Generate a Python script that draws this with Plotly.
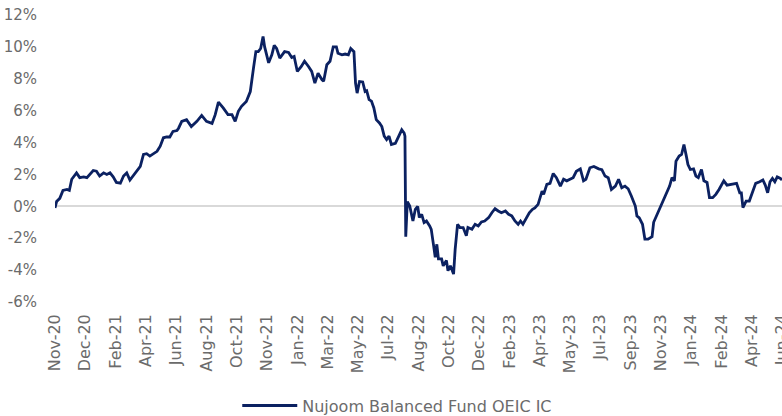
import plotly.graph_objects as go

# trading-day index and cumulative return (%)
days = [0, 2, 6, 10, 15, 18, 21, 27, 31, 36, 40, 44, 48, 52, 56, 61, 65, 69, 73, 77,
        82, 86, 90, 94, 98, 102, 107, 111, 115, 119, 123, 128, 132, 136, 140, 144, 148, 153, 155,
        159, 165, 171, 178, 184, 190, 197, 201, 205, 211, 217, 222, 226, 230, 234, 240,
        245, 249, 252, 255, 258, 261, 263, 268, 272, 275, 278, 282, 288, 293, 297, 300,
        304, 309, 313, 318, 322, 326, 330, 335, 337, 341, 345, 349, 353, 355, 360, 364,
        368, 371, 375, 377, 379, 382, 386, 389, 391, 394, 397, 400, 403, 407, 410, 413,
        416, 419, 422, 427, 431, 435, 438, 439, 440, 442, 445, 449, 452, 455, 457, 460,
        463, 466, 470, 472, 475, 477, 479, 481, 485, 487, 491, 493, 496, 500, 502, 505,
        508, 512, 516, 518, 523, 527, 531, 535, 539, 544, 548, 552, 556, 560, 565, 569,
        573, 577, 581, 584, 587, 591, 595, 599, 602, 606, 611, 613, 617, 621, 625, 629,
        634, 638, 642, 646, 650, 654, 659, 663, 666, 671, 676, 682, 686, 690, 694, 698,
        703, 707, 711, 715, 719, 723, 728, 730, 733, 737, 740, 744, 749, 751, 755, 759,
        763, 767, 771, 774, 777, 779, 783, 786, 789, 792, 794, 797, 801, 804, 807, 811,
        814, 818, 821, 825, 829, 833, 836, 839, 843, 847, 851, 855, 859, 861, 863, 867,
        871, 875, 879, 884, 888, 891, 894, 897, 900, 903, 906, 910, 912]
returns = [-0.1, 0.3, 0.5, 1.0, 1.06, 1.0, 1.7, 2.1, 1.8, 1.85, 1.8, 2.0, 2.25, 2.2, 1.9, 2.1, 2.0, 2.1, 1.85, 1.5,
           1.45, 1.9, 2.1, 1.65, 1.9, 2.2, 2.5, 3.25, 3.3, 3.15, 3.3, 3.45, 3.77, 4.3, 4.35, 4.35, 4.7, 4.75, 4.9,
           5.33, 5.44, 5.0, 5.33, 5.7, 5.33, 5.2, 5.75, 6.54, 6.17, 5.75, 5.75, 5.33, 5.96, 6.27, 6.58,
           7.2, 8.67, 9.7, 9.7, 9.9, 10.65, 10.0, 9.0, 9.5, 10.1, 9.9, 9.3, 9.7, 9.65, 9.33, 9.4,
           8.46, 8.77, 9.1, 8.77, 8.46, 7.73, 8.35, 7.94, 7.85, 8.88, 9.1, 10.0, 10.0, 9.6, 9.5, 9.55,
           9.5, 9.9, 9.7, 7.73, 7.1, 7.83, 7.8, 7.2, 7.25, 6.69, 6.6, 6.17, 5.44, 5.23, 5.0, 4.4,
           4.19, 4.4, 3.88, 3.95, 4.4, 4.8, 4.6, 4.4, -1.9, 0.3, 0.02, -0.92, -0.19, 0.0, -0.7, -0.5,
           -1.02, -0.92, -1.23, -1.44, -2.48, -3.2, -2.38, -3.3, -3.3, -3.73, -3.4, -4.04, -3.73, -4.25, -2.69, -1.125,
           -1.33, -1.33, -1.85, -1.33, -1.44, -1.125, -1.23, -0.98, -0.92, -0.71, -0.4, -0.15, -0.29, -0.4, -0.29, -0.5,
           -0.6, -0.92, -1.125, -0.92, -1.125, -0.71, -0.4, -0.19, -0.1, 0.125, 0.96, 0.75, 1.375, 1.44, 2.06, 1.8,
           1.27, 1.7, 1.6, 1.7, 1.8, 2.2, 2.35, 1.6, 1.7, 2.42, 2.5, 2.35, 2.3, 1.9, 1.8, 1.06,
           1.27, 1.7, 1.17, 1.27, 1.1, 0.65, 0.02, -0.6, -0.73, -1.125, -2.06, -2.06, -1.9, -1.0, -0.55, -0.1,
           0.33, 0.75, 1.27, 1.8, 1.6, 2.83, 3.15, 3.25, 3.88, 3.15, 2.625, 2.31, 2.35, 1.9, 1.8, 2.31,
           1.6, 1.5, 0.54, 0.54, 0.75, 1.06, 1.375, 1.6, 1.33, 1.375, 1.44, 1.44, 0.85, 0.85, -0.08, 0.33,
           0.33, 0.85, 1.44, 1.54, 1.65, 1.33, 0.85, 1.54, 1.75, 1.54, 1.85, 1.75, 1.65]

tick_labels = ["Nov-20", "Dec-20", "Feb-21", "Apr-21", "Jun-21", "Aug-21", "Oct-21", "Nov-21",
               "Jan-22", "Mar-22", "May-22", "Jul-22", "Aug-22", "Oct-22", "Dec-22", "Feb-23",
               "Apr-23", "May-23", "Jul-23", "Sep-23", "Nov-23", "Jan-24", "Feb-24", "Apr-24", "Jun-24"]
label_step = 38
tick_days = [i * label_step for i in range(len(tick_labels))]

y_ticks = [-6, -4, -2, 0, 2, 4, 6, 8, 10, 12]

series_name = "Nujoom Balanced Fund OEIC IC"

fig = go.Figure()
fig.add_trace(go.Scatter(
    x=days, y=returns, mode="lines", name=series_name,
    line=dict(color="#0b2161", width=2.8),
))

font_family = "'DejaVu Sans', sans-serif"
grey = "#6b6b6b"

fig.update_layout(
    width=782, height=416,
    margin=dict(l=55, r=0, t=15, b=114),
    paper_bgcolor="white", plot_bgcolor="white",
    font=dict(family=font_family, size=15, color=grey),
    showlegend=True,
    legend=dict(orientation="h", x=0.508, xanchor="center", xref="container",
                y=0.025, yanchor="middle", yref="container", itemwidth=55,
                font=dict(size=16, color=grey)),
    xaxis=dict(range=[0, tick_days[-1]], tickmode="array", tickvals=tick_days,
               ticktext=tick_labels, tickangle=-90, showgrid=False, zeroline=False,
               showline=False, ticks="", automargin=False, ticklabelstandoff=8,
               ticklabeloverflow="allow",
               tickfont=dict(size=16, color=grey)),
    yaxis=dict(range=[-6, 12], tickmode="array", tickvals=y_ticks,
               ticktext=[f"{v}%" for v in y_ticks], showgrid=False,
               zeroline=True, zerolinecolor="#d9d9d9", zerolinewidth=1.5,
               showline=False, ticks="", automargin=False, ticklabelstandoff=17,
               tickfont=dict(size=15, color=grey)),
)

fig.write_html("out.html", config={"displayModeBar": False},
               post_script="document.body.style.margin='0';")
